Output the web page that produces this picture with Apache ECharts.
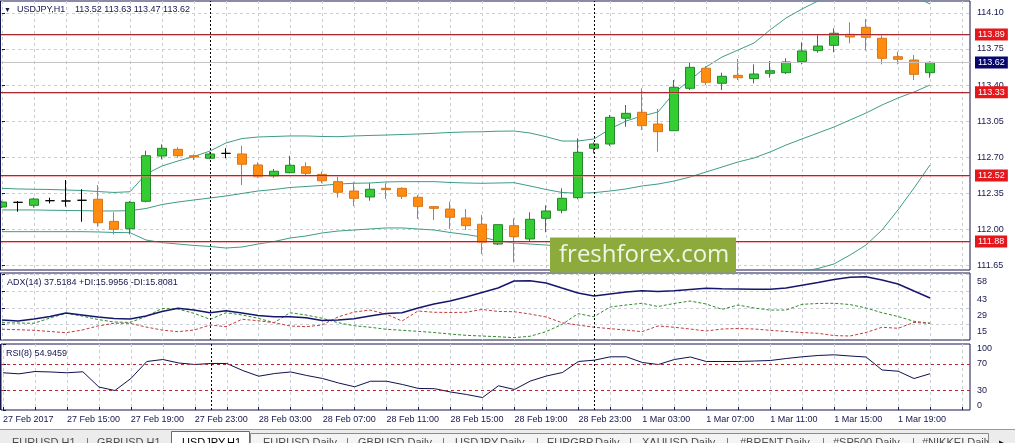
<!DOCTYPE html>
<html><head><meta charset="utf-8">
<script src="https://cdn.jsdelivr.net/npm/echarts@6/dist/echarts.min.js"></script>
<style>html,body{margin:0;padding:0;background:#fff;}#c{width:1015px;height:443px;}</style>
</head><body><div id="c"></div>
<script>
const times = ['27 Feb 11:00','27 Feb 12:00','27 Feb 13:00','27 Feb 14:00','27 Feb 15:00','27 Feb 16:00','27 Feb 17:00','27 Feb 18:00','27 Feb 19:00','27 Feb 20:00','27 Feb 21:00','27 Feb 22:00','27 Feb 23:00',
'28 Feb 00:00','28 Feb 01:00','28 Feb 02:00','28 Feb 03:00','28 Feb 04:00','28 Feb 05:00','28 Feb 06:00','28 Feb 07:00','28 Feb 08:00','28 Feb 09:00','28 Feb 10:00','28 Feb 11:00','28 Feb 12:00','28 Feb 13:00','28 Feb 14:00','28 Feb 15:00','28 Feb 16:00','28 Feb 17:00','28 Feb 18:00','28 Feb 19:00','28 Feb 20:00','28 Feb 21:00','28 Feb 22:00','28 Feb 23:00',
'1 Mar 00:00','1 Mar 01:00','1 Mar 02:00','1 Mar 03:00','1 Mar 04:00','1 Mar 05:00','1 Mar 06:00','1 Mar 07:00','1 Mar 08:00','1 Mar 09:00','1 Mar 10:00','1 Mar 11:00','1 Mar 12:00','1 Mar 13:00','1 Mar 14:00','1 Mar 15:00','1 Mar 16:00','1 Mar 17:00','1 Mar 18:00','1 Mar 19:00','1 Mar 20:00','1 Mar 21:00'];
const tickLabels = ['27 Feb 2017','27 Feb 15:00','27 Feb 19:00','27 Feb 23:00','28 Feb 03:00','28 Feb 07:00','28 Feb 11:00','28 Feb 15:00','28 Feb 19:00','28 Feb 23:00','1 Mar 03:00','1 Mar 07:00','1 Mar 11:00','1 Mar 15:00','1 Mar 19:00'];

const opens  = [112.215,112.260,112.231,112.276,112.273,112.280,112.290,112.075,112.004,112.270,112.710,112.775,112.713,112.688,112.736,112.730,112.623,112.516,112.548,112.606,112.532,112.461,112.370,112.312,112.396,112.396,112.309,112.218,112.195,112.108,112.047,111.855,112.033,111.904,112.105,112.183,112.305,112.785,112.827,113.077,113.135,113.021,112.956,113.368,113.563,113.417,113.494,113.462,113.514,113.520,113.627,113.734,113.786,113.893,113.961,113.854,113.675,113.643,113.520];
const highs  = [112.275,112.273,112.305,112.305,112.477,112.387,112.428,112.163,112.273,112.762,112.824,112.795,112.727,112.746,112.785,112.810,112.649,112.584,112.713,112.649,112.558,112.509,112.455,112.445,112.445,112.406,112.331,112.224,112.266,112.195,112.137,112.045,112.105,112.163,112.231,112.396,112.882,112.843,113.109,113.206,113.368,113.167,113.449,113.617,113.585,113.520,113.653,113.601,113.634,113.660,113.815,113.886,113.951,114.010,114.042,113.886,113.724,113.692,113.630];
const lows   = [112.205,112.169,112.208,112.250,112.218,112.072,112.023,111.949,111.949,112.260,112.678,112.694,112.671,112.678,112.688,112.428,112.499,112.499,112.542,112.519,112.445,112.305,112.224,112.276,112.292,112.292,112.098,112.088,112.001,111.991,111.758,111.845,111.677,111.884,111.969,112.153,112.290,112.737,112.808,112.995,112.963,112.752,112.953,113.352,113.400,113.352,113.449,113.417,113.471,113.507,113.601,113.714,113.718,113.806,113.734,113.601,113.601,113.449,113.470];
const closes = [112.263,112.260,112.292,112.276,112.273,112.280,112.062,111.998,112.260,112.713,112.785,112.713,112.700,112.730,112.736,112.630,112.509,112.562,112.620,112.542,112.470,112.358,112.299,112.387,112.383,112.319,112.221,112.202,112.115,112.033,111.872,112.043,111.926,112.095,112.176,112.299,112.746,112.827,113.086,113.125,113.005,112.947,113.378,113.572,113.427,113.485,113.471,113.507,113.539,113.624,113.731,113.779,113.903,113.867,113.864,113.660,113.650,113.504,113.620];

const bbUpper  = [112.396,112.390,112.387,112.385,112.380,112.375,112.365,112.356,112.363,112.535,112.613,112.662,112.705,112.759,112.837,112.880,112.895,112.900,112.905,112.905,112.900,112.898,112.905,112.910,112.914,112.919,112.924,112.931,112.939,112.944,112.946,112.951,112.953,112.934,112.898,112.856,112.856,112.876,112.973,113.050,113.099,113.138,113.323,113.449,113.575,113.672,113.740,113.808,113.935,114.051,114.139,114.217,114.324,114.372,114.411,114.421,114.362,114.265,114.187];
const bbMiddle = [112.186,112.186,112.186,112.183,112.181,112.179,112.176,112.176,112.179,112.200,112.239,112.263,112.283,112.302,112.322,112.346,112.370,112.385,112.404,112.414,112.424,112.438,112.445,112.448,112.458,112.461,112.461,112.461,112.453,112.448,112.445,112.448,112.451,112.419,112.385,112.356,112.348,112.354,112.370,112.390,112.419,112.438,112.467,112.506,112.555,112.603,112.652,112.691,112.749,112.817,112.876,112.934,112.992,113.060,113.128,113.206,113.274,113.332,113.400];
const bbLower  = [111.975,111.975,111.975,111.975,111.975,111.975,111.972,111.967,111.965,111.894,111.868,111.855,111.841,111.831,111.816,111.826,111.855,111.879,111.913,111.933,111.962,111.981,111.991,112.001,112.011,112.011,112.001,111.991,111.967,111.947,111.923,111.884,111.865,111.855,111.845,111.836,111.816,111.797,111.768,111.729,111.738,111.738,111.612,111.564,111.534,111.534,111.564,111.573,111.564,111.583,111.588,111.617,111.661,111.748,111.845,111.991,112.186,112.399,112.623];

const adx     = [18.7,17.8,19.5,21.7,24.7,23.0,21.3,20.0,19.5,22.1,26.0,28.7,27.2,24.9,26.6,24.7,22.5,21.5,21.5,20.6,18.3,18.7,19.7,22.1,24.3,24.9,29.0,32.4,34.9,38.4,42.2,46.0,52.0,52.3,50.3,46.0,41.8,39.2,40.9,42.6,43.7,43.1,43.7,44.8,45.8,45.4,45.2,45.0,44.9,46.0,48.4,50.7,53.3,55.2,55.7,52.9,49.5,43.5,37.52];
const plusDI  = [16.4,16.1,15.9,20.4,24.4,22.1,19.1,17.0,16.6,21.7,28.5,28.1,24.4,19.3,24.9,23.0,20.2,16.4,24.9,23.0,20.2,16.4,13.8,12.5,10.8,9.9,9.0,8.0,6.7,5.6,5.0,4.4,3.6,4.8,8.7,14.9,24.1,21.5,29.8,31.5,33.0,30.2,32.8,34.9,32.4,27.8,31.5,29.0,27.2,27.2,32.1,32.8,33.0,31.9,29.0,24.9,21.7,17.6,16.00];
const minusDI = [10.8,10.4,9.9,8.9,7.8,10.1,13.6,15.9,15.9,12.7,10.1,8.7,10.1,14.4,13.0,19.3,18.1,16.4,13.6,13.0,14.4,21.3,25.5,27.2,23.8,17.8,26.4,25.3,25.1,25.3,27.7,26.0,25.8,23.8,21.3,16.4,14.4,12.5,11.3,10.1,8.7,13.6,12.5,11.0,9.3,11.0,11.4,11.0,9.9,8.9,8.0,7.3,5.4,5.0,8.0,12.5,11.6,16.6,15.81];
const rsi     = [56.4,54.8,58.3,57.6,56.4,57.9,34.8,29.5,47.7,73.5,76.5,71.2,68.9,70.5,70.5,59.8,51.2,55.3,57.6,52.3,47.7,40.9,35.2,43.6,43.6,38.6,32.6,32.3,27.3,23.5,18.9,36.7,31.1,43.9,51.5,56.8,73.5,75.5,80.6,80.6,72.0,68.9,76.5,80.3,73.5,73.5,73.5,74.2,75.0,78.0,80.6,82.6,83.6,81.8,80.3,60.6,58.8,47.7,54.95];

const priceTicks = [111.65,112.00,112.35,112.70,113.05,113.40,113.75,114.10];
const adxTicks = [15,29,43,58];
const rsiTicks = [0,30,70,100];
const hLevels = [113.89,113.33,112.52,111.88];
const rsiLevels = [70,30];
const daySeparators = ['28 Feb 00:00','1 Mar 00:00'];
const headerSymbol = 'USDJPY,H1';
const headerOHLC = '113.52 113.63 113.47 113.62';
const adxTitle = 'ADX(14) 37.5184 +DI:15.9956 -DI:15.8081';
const rsiTitle = 'RSI(8) 54.9459';
const tabs = ['EURUSD,H1','GBPUSD,H1','USDJPY,H1','EURUSD,Daily','GBPUSD,Daily','USDJPY,Daily','EURGBP,Daily','XAUUSD,Daily','#BRENT,Daily','#SP500,Daily','#NIKKEI,Daily'];

const FONT = "'Liberation Sans', Arial, sans-serif";
const NAVY = '#16164e';
const GRIDC = '#c9cdd4';
const BB = '#3f9c86';
const lastClose = closes[closes.length - 1];
// x axis: bar index as value; chart shift leaves empty room right of the last bar
const X_MIN = -0.125, X_MAX = 60.5;
const labelIdx = tickLabels.map((t, k) => k * 4);
const gridIdx = [];
for (let k = 0; k <= 60; k += 2) gridIdx.push(k);
const sepIdx = daySeparators.map(d => times.indexOf(d));

const candleData = opens.map((o, i) => {
  const v = [i, o, closes[i], lows[i], highs[i]];
  if (o === closes[i]) return { value: v, itemStyle: { color: '#000', color0: '#000', borderColor: '#000', borderColor0: '#000' } };
  return v;
});
const pairs = arr => arr.map((v, i) => [i, v]);

const G = [
  { top: 1, height: 269 },
  { top: 273, height: 67 },
  { top: 344, height: 66 }
];

function xAxisFor(idx, showLabels) {
  return {
    type: 'value', gridIndex: idx, min: X_MIN, max: X_MAX,
    axisLine: { show: false },
    axisTick: { show: showLabels, inside: true, length: 3, customValues: gridIdx, lineStyle: { color: NAVY } },
    axisLabel: showLabels ? {
      show: true, customValues: labelIdx, align: 'left', margin: 5, fontSize: 9, fontFamily: FONT, color: NAVY,
      formatter: v => tickLabels[Math.round(v / 4)] || ''
    } : { show: false },
    splitLine: { show: true, lineStyle: { color: GRIDC, type: [3, 3], width: 1 } }
  };
}

const sepLine = {
  symbol: ['none', 'none'], silent: true, animation: false,
  lineStyle: { color: '#000', type: [2, 2], width: 1 }, label: { show: false },
  data: sepIdx.map(d => ({ xAxis: d }))
};

const redLabel = { show: true, position: 'end', distance: 5, formatter: p => Number(p.value).toFixed(2), color: '#fff', backgroundColor: '#e5171d', padding: [2, 3, 1, 3], fontSize: 9, fontFamily: FONT };
const redLine = { color: '#a82a2e', width: 1, type: 'solid', shadowColor: 'rgba(240,120,120,0.55)', shadowOffsetY: 1, shadowBlur: 0 };

const graphics = [];
G.forEach(g => graphics.push({ type: 'line', silent: true, z: 50, shape: { x1: 0.5, y1: g.top, x2: 0.5, y2: g.top + g.height }, style: { stroke: NAVY, lineWidth: 1 } }));
graphics.push({ type: 'text', z: 60, style: { text: '▼', x: 4, y: 10, verticalAlign: 'middle', font: '7px ' + FONT, fill: NAVY } });
graphics.push({ type: 'text', z: 60, style: { text: headerSymbol, x: 17, y: 10, verticalAlign: 'middle', font: '9px ' + FONT, fill: NAVY } });
graphics.push({ type: 'text', z: 60, style: { text: headerOHLC, x: 75, y: 10, verticalAlign: 'middle', font: '9px ' + FONT, fill: NAVY } });
graphics.push({ type: 'text', z: 60, style: { text: adxTitle, x: 7, y: 283, verticalAlign: 'middle', font: '9px ' + FONT, fill: NAVY } });
graphics.push({ type: 'text', z: 60, style: { text: rsiTitle, x: 6, y: 354, verticalAlign: 'middle', font: '9px ' + FONT, fill: NAVY } });
// watermark
graphics.push({ type: 'rect', z: 80, shape: { x: 550, y: 237.5, width: 186, height: 35 }, style: { fill: '#8dab3d' } });
graphics.push({ type: 'text', z: 81, style: { text: 'freshforex.com', x: 559, y: 255, verticalAlign: 'middle', font: '24px "Open Sans", sans-serif', fill: '#f1f5e6' } });
// tab bar
graphics.push({ type: 'rect', z: 70, shape: { x: 0, y: 429, width: 1015, height: 14 }, style: { fill: '#ececec' } });
graphics.push({ type: 'line', z: 71, shape: { x1: 0, y1: 429.5, x2: 1015, y2: 429.5 }, style: { stroke: '#9a9a9a' } });
graphics.push({ type: 'rect', z: 71, shape: { x: 250.5, y: 433.5, width: 738, height: 12 }, style: { fill: '#f4f4f4', stroke: '#8a8a8a' } });
graphics.push({ type: 'rect', z: 72, shape: { x: 171.5, y: 431.5, width: 78, height: 14 }, style: { fill: '#fff', stroke: '#6a6a6a' } });
const tabX = [12, 97, 182, 263, 358, 455, 547, 642, 740, 833, 922];
const sepX = [86, 346, 442, 536, 629, 726, 822, 912];
tabs.forEach((t, i) => graphics.push({ type: 'text', z: 73, style: { text: t, x: tabX[i], y: 437.5, verticalAlign: 'top', font: '11px ' + FONT, fill: i === 2 ? '#000' : '#4a4a4a' } }));
sepX.forEach(x => graphics.push({ type: 'text', z: 73, style: { text: '|', x: x, y: 437.5, verticalAlign: 'top', font: '11px ' + FONT, fill: '#6a6a6a' } }));
graphics.push({ type: 'rect', z: 74, shape: { x: 989, y: 430, width: 26, height: 13 }, style: { fill: '#ececec' } });
graphics.push({ type: 'text', z: 75, style: { text: '▸', x: 999, y: 437, verticalAlign: 'top', font: '11px ' + FONT, fill: '#111' } });

const option = {
  animation: false,
  backgroundColor: '#ffffff',
  grid: G.map(g => ({ left: 0, width: 970, top: g.top, height: g.height, show: true, borderColor: NAVY, borderWidth: 1, backgroundColor: '#fff' })),
  xAxis: [xAxisFor(0, false), xAxisFor(1, false), xAxisFor(2, true)],
  yAxis: [
    { type: 'value', gridIndex: 0, position: 'right', min: 111.6024, max: 114.2166,
      axisLine: { show: false },
      axisTick: { show: true, length: 3, customValues: priceTicks, lineStyle: { color: NAVY } },
      axisLabel: { customValues: priceTicks, formatter: v => Number(v).toFixed(2), color: NAVY, fontSize: 9, fontFamily: FONT, margin: 7 },
      splitLine: { show: true, lineStyle: { color: GRIDC, type: [3, 3] } } },
    { type: 'value', gridIndex: 1, position: 'right', min: 1.6, max: 58.87,
      axisLine: { show: false },
      axisTick: { show: true, length: 3, customValues: adxTicks, lineStyle: { color: NAVY } },
      axisLabel: { customValues: adxTicks, color: NAVY, fontSize: 9, fontFamily: FONT, margin: 7, verticalAlign: 'top', padding: [3, 0, 0, 0] },
      splitLine: { show: true, lineStyle: { color: GRIDC, type: [3, 3] } } },
    { type: 'value', gridIndex: 2, position: 'right', min: 0, max: 100,
      axisLine: { show: false },
      axisTick: { show: true, length: 3, customValues: rsiTicks, lineStyle: { color: NAVY } },
      axisLabel: { customValues: rsiTicks, color: NAVY, fontSize: 9, fontFamily: FONT, margin: 7, verticalAlignMaxLabel: 'top', verticalAlignMinLabel: 'bottom' },
      splitLine: { show: false } }
  ],
  series: [
    { type: 'line', xAxisIndex: 0, yAxisIndex: 0, data: pairs(bbUpper), symbol: 'none', silent: true, clip: true, lineStyle: { color: BB, width: 1 }, z: 1 },
    { type: 'line', xAxisIndex: 0, yAxisIndex: 0, data: pairs(bbMiddle), symbol: 'none', silent: true, clip: true, lineStyle: { color: BB, width: 1 }, z: 1, markLine: sepLine },
    { type: 'line', xAxisIndex: 0, yAxisIndex: 0, data: pairs(bbLower), symbol: 'none', silent: true, clip: true, lineStyle: { color: BB, width: 1 }, z: 1 },
    { type: 'candlestick', xAxisIndex: 0, yAxisIndex: 0, data: candleData, barWidth: 10, clip: true, z: 3,
      itemStyle: { color: '#33cc33', color0: '#ff8c0f', borderColor: '#22882a', borderColor0: '#d9741a', borderColorDoji: '#000', borderWidth: 1 },
      markLine: { symbol: ['none', 'none'], silent: true, animation: false,
        data: hLevels.map(v => ({ yAxis: v, lineStyle: redLine, label: redLabel }))
          .concat([{ yAxis: lastClose, lineStyle: { color: '#c4c4c4', width: 1, type: 'solid' }, label: Object.assign({}, redLabel, { backgroundColor: '#07076e' }) }]) } },
    { type: 'line', xAxisIndex: 1, yAxisIndex: 1, data: pairs(plusDI), symbol: 'none', silent: true, lineStyle: { color: '#2f8a2f', width: 1, type: [3, 2] } },
    { type: 'line', xAxisIndex: 1, yAxisIndex: 1, data: pairs(minusDI), symbol: 'none', silent: true, lineStyle: { color: '#c43c3c', width: 1, type: [3, 2] } },
    { type: 'line', xAxisIndex: 1, yAxisIndex: 1, data: pairs(adx), symbol: 'none', silent: true, lineStyle: { color: '#16166e', width: 1.5 }, markLine: sepLine },
    { type: 'line', xAxisIndex: 2, yAxisIndex: 2, data: pairs(rsi), symbol: 'none', silent: true, lineStyle: { color: '#101050', width: 1 },
      markLine: { symbol: ['none', 'none'], silent: true, animation: false, label: { show: false },
        data: rsiLevels.map(v => ({ yAxis: v, lineStyle: { color: '#b8282d', type: [3, 3], width: 1 } }))
          .concat(sepIdx.map(d => ({ xAxis: d, lineStyle: { color: '#000', type: [2, 2], width: 1 } }))) } }
  ],
  graphic: graphics
};

const chart = echarts.init(document.getElementById('c'), null, { renderer: 'canvas' });
chart.setOption(option);
</script>
</body></html>
